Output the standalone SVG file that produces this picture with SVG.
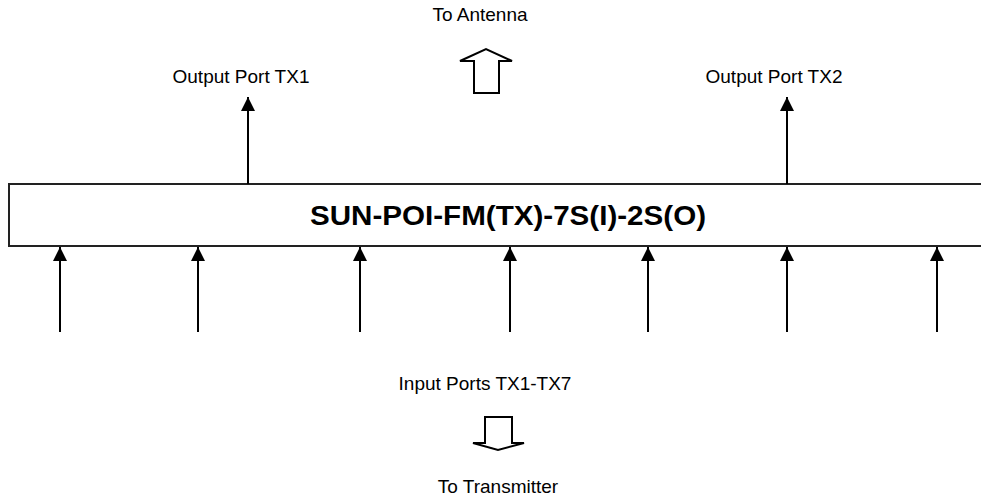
<svg xmlns="http://www.w3.org/2000/svg" width="981" height="500" viewBox="0 0 981 500">
<defs>
<style>
.lbl{font-family:"Liberation Sans",Arial,sans-serif;font-size:19px;fill:#000;text-anchor:middle}
.title{font-family:"Liberation Sans",Arial,sans-serif;font-size:27px;font-weight:bold;fill:#000;text-anchor:middle}
.conn line{stroke:#000;stroke-width:2;marker-end:url(#ah)}
.hollow{fill:#fff;stroke:#000;stroke-width:2;stroke-linejoin:miter}
</style>
<marker id="ah" viewBox="0 0 14 14" refX="14" refY="7" markerWidth="14" markerHeight="14" markerUnits="userSpaceOnUse" orient="auto">
<path d="M0,0 L14,7 L0,14 Z" fill="#000"/>
</marker>
</defs>
<rect width="981" height="500" fill="#fff"/>
<g id="main-box">
<path d="M990,184 L9,184 L9,246 L990,246" fill="#fff" stroke="#222" stroke-width="2"/>
<text class="title" x="508" y="225" textLength="396" lengthAdjust="spacingAndGlyphs">SUN-POI-FM(TX)-7S(I)-2S(O)</text>
</g>
<g id="antenna">
<text class="lbl" x="480" y="21">To Antenna</text>
<path class="hollow" d="M474,93 L474,61 L460,61 L486,49 L512,61 L499,61 L499,93 Z"/>
</g>
<g id="output-tx1">
<text class="lbl" x="241" y="83">Output Port TX1</text>
</g>
<g id="output-tx2">
<text class="lbl" x="774" y="83">Output Port TX2</text>
</g>
<g id="inputs">
<text class="lbl" x="485" y="390">Input Ports TX1-TX7</text>
</g>
<g id="transmitter">
<path class="hollow" d="M485,417 L512,417 L512,443 L524,443 L498,450 L473,443 L485,443 Z"/>
<text class="lbl" x="498" y="493">To Transmitter</text>
</g>
<g id="connectors" class="conn">
<line x1="248" y1="184" x2="248" y2="97"/>
<line x1="787" y1="184" x2="787" y2="97"/>
<line x1="60" y1="332" x2="60" y2="247"/>
<line x1="198" y1="332" x2="198" y2="247"/>
<line x1="360" y1="332" x2="360" y2="247"/>
<line x1="510" y1="332" x2="510" y2="247"/>
<line x1="648" y1="332" x2="648" y2="247"/>
<line x1="787" y1="332" x2="787" y2="247"/>
<line x1="937" y1="332" x2="937" y2="247"/>
</g>
</svg>
